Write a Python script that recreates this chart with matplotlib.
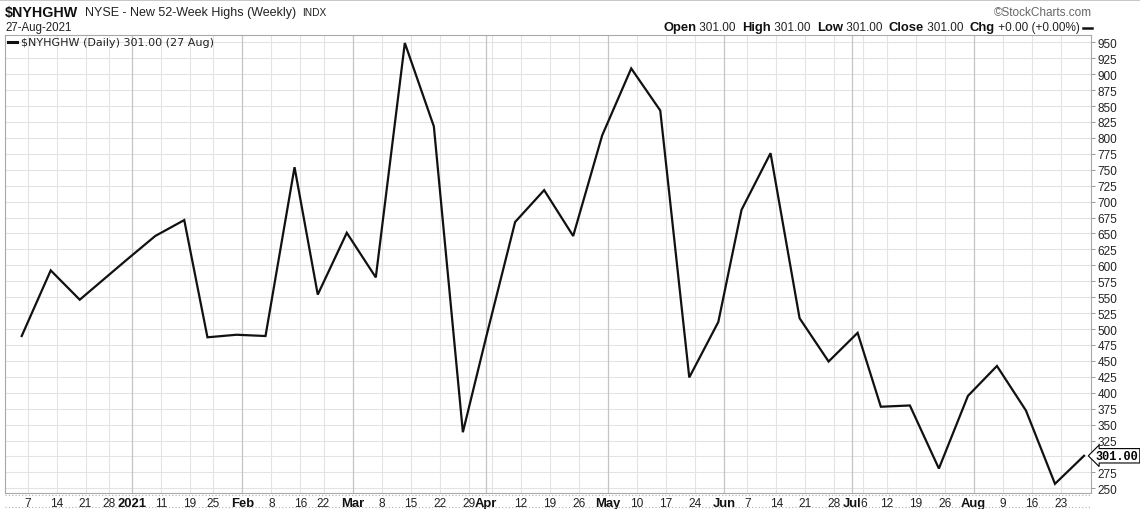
import numpy as np
import pandas as pd
import matplotlib
matplotlib.use("Agg")
import matplotlib.pyplot as plt
from matplotlib.lines import Line2D

# ---------------- data ----------------
week_dates = ['2020-12-04', '2020-12-11', '2020-12-18', '2020-12-24', '2020-12-31',
              '2021-01-08', '2021-01-15', '2021-01-22', '2021-01-29', '2021-02-05',
              '2021-02-12', '2021-02-19', '2021-02-26', '2021-03-05', '2021-03-12',
              '2021-03-19', '2021-03-26', '2021-04-01', '2021-04-09', '2021-04-16',
              '2021-04-23', '2021-04-30', '2021-05-07', '2021-05-14', '2021-05-21',
              '2021-05-28', '2021-06-04', '2021-06-11', '2021-06-18', '2021-06-25',
              '2021-07-02', '2021-07-09', '2021-07-16', '2021-07-23', '2021-07-30',
              '2021-08-06', '2021-08-13', '2021-08-20', '2021-08-27']
highs = [489, 592, 546, 577, 608, 646, 671, 487, 491, 489,
         754, 554, 651, 581, 949, 818, 338, 487, 668, 718,
         646, 804, 909, 843, 424, 511, 687, 776, 517, 449,
         494, 378, 380, 281, 395, 442, 372, 257, 301]
holidays = ['2020-11-26', '2020-12-25', '2021-01-01', '2021-01-18', '2021-02-15',
            '2021-04-02', '2021-05-31', '2021-07-05']
month_names = {1: '2021', 2: 'Feb', 3: 'Mar', 4: 'Apr', 5: 'May', 6: 'Jun',
               7: 'Jul', 8: 'Aug', 9: 'Sep', 12: 'Dec'}
y_ticks = list(range(250, 951, 25))
hidden_y_labels = [300]               # covered by the last-value tag in the reference
hidden_week_labels = ['2021-04-05']   # label suppressed next to "Apr" in the reference

# ---------------- trading-day calendar ----------------
cal = pd.bdate_range('2020-11-30', '2021-09-03', freq='C', holidays=holidays)
origin = cal.get_loc(pd.Timestamp(week_dates[0]))
last = cal.get_loc(pd.Timestamp(week_dates[-1])) - origin
def xpos(d):
    return cal.get_loc(pd.Timestamp(d)) - origin

xs = [xpos(d) for d in week_dates]

week_ticks, week_labels, month_ticks, month_labels = [], [], [], []
for i in range(1, len(cal)):
    d, p = cal[i], cal[i - 1]
    pos = i - origin
    if pos < 0 or pos > last:
        continue
    new_month = d.month != p.month
    new_week = d.isocalendar()[1] != p.isocalendar()[1]
    if new_month:
        month_ticks.append(pos)
        month_labels.append(month_names[d.month])
    if new_week and not new_month:
        week_ticks.append(pos)
        week_labels.append('' if d.strftime('%Y-%m-%d') in hidden_week_labels else str(d.day))

# ---------------- figure ----------------
W, H = 1140, 510
fig = plt.figure(figsize=(W / 100, H / 100), dpi=100)
L, R, T, B = 5, 1091, 36, 494
ax = fig.add_axes([L / W, (H - B) / H, (R - L) / W, (B - T) / H])

x0, px_day = 21.7, 5.805
ax.set_xlim((L - x0) / px_day, (R - x0) / px_day)
ax.set_ylim(242.6, 961.5)

# grid
for yv in y_ticks:
    ax.axhline(yv, color='#e3e3e3', lw=0.8, zorder=0)
for xv in week_ticks:
    ax.axvline(xv, color='#e3e3e3', lw=0.8, zorder=0)
for xv in month_ticks:
    ax.axvline(xv, color='#c4c4c4', lw=0.9, zorder=0)

ax.plot(xs, highs, color='#111111', lw=1.6, solid_joinstyle='miter', zorder=3)

# axes styling
for s in ax.spines.values():
    s.set_color('#a8a8a8')
    s.set_linewidth(0.8)

ax.yaxis.tick_right()
ax.set_yticks(y_ticks)
ax.set_yticklabels(['' if v in hidden_y_labels else str(v) for v in y_ticks])
ax.tick_params(axis='y', length=3, width=0.6, color='#888888', pad=1.5,
               labelsize=8.5, labelcolor='#222222')
for lab in ax.get_yticklabels():
    lab.set_fontfamily('Liberation Sans')

all_ticks = week_ticks + month_ticks
all_labels = week_labels + month_labels
ax.set_xticks(all_ticks)
ax.set_xticklabels(all_labels)
ax.tick_params(axis='x', length=0, pad=3, labelsize=8.6, labelcolor='#222222')
nw = len(week_ticks)
for i, lab in enumerate(ax.get_xticklabels()):
    lab.set_fontfamily('Liberation Sans')
    if i >= nw:
        lab.set_fontweight('bold')
        lab.set_fontsize(9.4)
        lab.set_color('#111111')

# last value tag
ax.annotate('301.00', xy=(1.0, highs[-1]), xycoords=('axes fraction', 'data'),
            xytext=(3.5, 0), textcoords='offset points', ha='left', va='center',
            fontsize=8.6, fontweight='bold', family='Liberation Mono', color='#000000',
            bbox=dict(boxstyle='larrow,pad=0.1', fc='white', ec='#000000', lw=0.8),
            annotation_clip=False, zorder=5)

# bottom dotted lines
for yy in (496, 508):
    fig.add_artist(Line2D([L / W, R / W], [(H - yy) / H] * 2, color='#b0b0b0',
                          lw=0.8, ls=(0, (1, 2))))
# top border
fig.add_artist(Line2D([0, 1], [1 - 0.5 / H] * 2, color='#bdbdbd', lw=1.2))

# legend inside plot
fig.add_artist(Line2D([8 / W, 17 / W], [(H - 43) / H] * 2, color='#111111', lw=2.2))
fig.text(21 / W, 1 - 43 / H, '$NYHGHW (Daily) 301.00 (27 Aug)', ha='left', va='center',
         fontsize=8, family='DejaVu Sans', color='#222222')

# header left
fig.text(5 / W, 1 - 13 / H, '$NYHGHW', ha='left', va='center', fontsize=10.3,
         fontweight='bold', family='Liberation Sans', color='#111111')
fig.text(85 / W, 1 - 13 / H, 'NYSE - New 52-Week Highs (Weekly)', ha='left', va='center',
         fontsize=9, family='Liberation Sans', color='#222222')
fig.text(302 / W, 1 - 13.5 / H, 'INDX', ha='left', va='center', fontsize=7.3,
         family='Liberation Sans', color='#222222')
fig.text(5 / W, 1 - 28 / H, '27-Aug-2021', ha='left', va='center', fontsize=8.3,
         family='Liberation Sans', color='#222222')

# header right
fig.text(1092 / W, 1 - 13 / H, '\u00a9StockCharts.com', ha='right', va='center',
         fontsize=8.5, family='Liberation Sans', color='#666666')
fig.add_artist(Line2D([1083 / W, 1092 / W], [(H - 29) / H] * 2, color='#111111', lw=1.8))

pieces = [('Open', True), (' 301.00  ', False), ('High', True), (' 301.00  ', False),
          ('Low', True), (' 301.00  ', False), ('Close', True), (' 301.00  ', False),
          ('Chg', True), (' +0.00 (+0.00%)', False)]
renderer = fig.canvas.get_renderer()
xr = 1080
for txt, bold in reversed(pieces):
    t = fig.text(xr / W, 1 - 28 / H, txt, ha='right', va='center',
                 fontsize=9.4 if bold else 8.5, fontweight='bold' if bold else 'normal',
                 family='Liberation Sans', color='#111111' if bold else '#222222')
    bb = t.get_window_extent(renderer)
    xr -= bb.width

fig.savefig('out.png', dpi=100)
